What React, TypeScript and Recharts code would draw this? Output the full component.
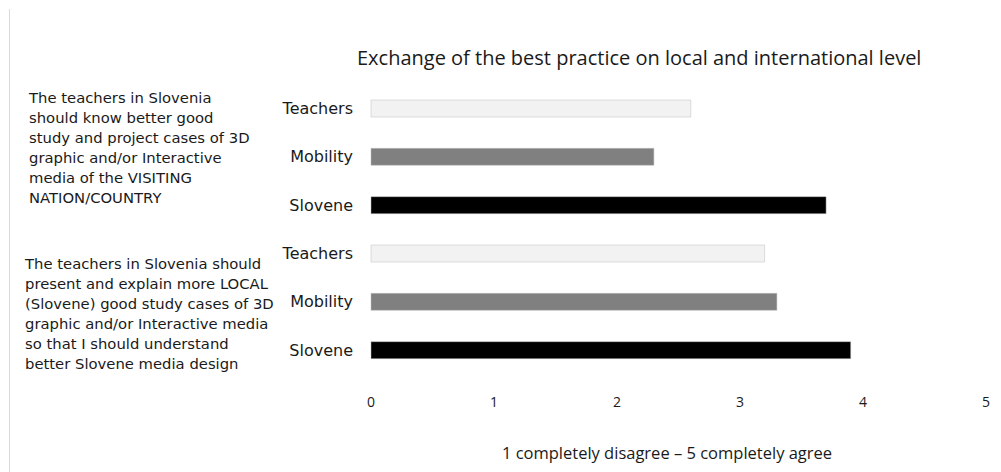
import React from "react";
import { BarChart, Bar, XAxis, YAxis, Cell } from "recharts";

const categories = ["Teachers", "Mobility", "Slovene", "Teachers", "Mobility", "Slovene"];
const values = [2.6, 2.3, 3.7, 3.2, 3.3, 3.9];
const barColors = ["#f2f2f2", "#808080", "#000000", "#f2f2f2", "#808080", "#000000"];
const xTicks = [0, 1, 2, 3, 4, 5];
const title = "Exchange of the best practice on local and international level";
const footer = "1 completely disagree \u2013 5 completely agree";
const statement1 = [
  "The teachers in Slovenia",
  "should know better good",
  "study and project cases of 3D",
  "graphic and/or Interactive",
  "media of the VISITING",
  "NATION/COUNTRY",
];
const statement2 = [
  "The teachers in Slovenia should",
  "present and explain more LOCAL",
  "(Slovene) good study cases of 3D",
  "graphic and/or Interactive media",
  "so that I should understand",
  "better Slovene media design",
];

const data = categories.map((c, i) => ({ key: `k${i}`, name: c, value: values[i] }));

const leftFont = "'DejaVu Sans', Verdana, sans-serif";

export default function App() {
  return (
    <div style={{ position: "absolute", left: 0, top: 0, width: 1001, height: 472, background: "#fff", overflow: "hidden" }}>
      <div style={{ position: "absolute", left: 9, top: 9, width: 1, height: 463, background: "#cfe0dc" }} />
      <div
        style={{
          position: "absolute",
          left: 357,
          top: 44,
          fontFamily: "'Open Sans', sans-serif",
          fontSize: 20,
          color: "#1a1a1a",
          whiteSpace: "nowrap",
        }}
      >
        {title}
      </div>
      <div style={{ position: "absolute", left: 29, top: 88, fontFamily: leftFont, fontSize: 14.8, lineHeight: "20px", color: "#1a1a1a", whiteSpace: "nowrap" }}>
        {statement1.map((l, i) => (
          <div key={i}>{l}</div>
        ))}
      </div>
      <div style={{ position: "absolute", left: 25, top: 254, fontFamily: leftFont, fontSize: 14.8, lineHeight: "20px", color: "#1a1a1a", whiteSpace: "nowrap" }}>
        {statement2.map((l, i) => (
          <div key={i}>{l}</div>
        ))}
      </div>
      <div
        style={{
          position: "absolute",
          left: 0,
          width: 1334,
          top: 441,
          textAlign: "center",
          fontFamily: "'Open Sans', sans-serif",
          fontSize: 16.5,
          color: "#1a1a1a",
          whiteSpace: "nowrap",
        }}
      >
        {footer}
      </div>
      <div style={{ position: "absolute", left: 0, top: 0 }}>
        <BarChart
          width={1001}
          height={472}
          data={data}
          layout="vertical"
          margin={{ top: 84, right: 15, bottom: 68, left: 0 }}
          barSize={17}
        >
          <XAxis
            type="number"
            domain={[0, 5]}
            ticks={xTicks}
            axisLine={false}
            tickLine={false}
            tickMargin={17}
            tick={{ fill: "#1a1a1a", fontSize: 14, fontFamily: "'Open Sans', sans-serif" }}
            height={30}
          />
          <YAxis
            type="category"
            dataKey="key"
            width={371}
            axisLine={false}
            tickLine={false}
            tickMargin={12}
            tickFormatter={(v: string) => {
              const idx = data.findIndex((d) => d.key === v);
              return idx >= 0 ? data[idx].name : v;
            }}
            tick={{ fill: "#1a1a1a", fontSize: 16, fontFamily: leftFont }}
          />
          <Bar dataKey="value" isAnimationActive={false} stroke="#bdbdbd" strokeWidth={0.5}>
            {data.map((d, i) => (
              <Cell key={d.key} fill={barColors[i]} />
            ))}
          </Bar>
        </BarChart>
      </div>
    </div>
  );
}
